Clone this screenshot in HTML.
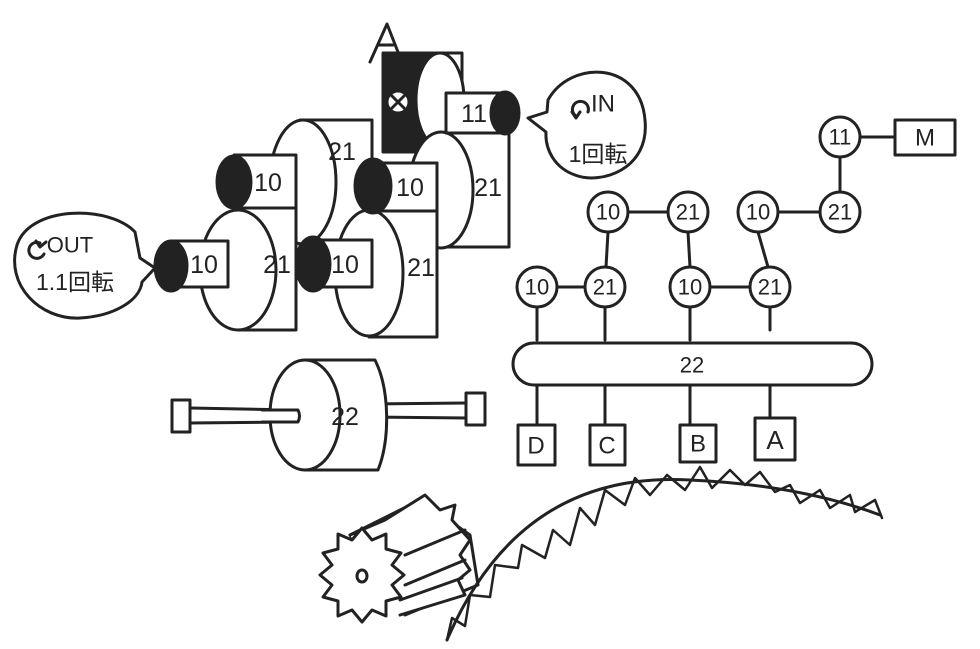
<!DOCTYPE html>
<html><head><meta charset="utf-8"><style>
html,body{margin:0;padding:0;background:#fff}
svg{display:block}
text{font-family:"Liberation Sans","Noto Sans CJK JP",sans-serif;fill:#222}
</style></head><body>
<svg width="980" height="649" viewBox="0 0 980 649" xmlns="http://www.w3.org/2000/svg">
<g stroke="#222" stroke-width="3" fill="#fff" stroke-linejoin="round" stroke-linecap="round">
<rect x="383" y="53" width="62" height="99" fill="#222"/>
<rect x="440" y="53" width="22" height="85"/>
<ellipse cx="440" cy="100" rx="24" ry="47"/>
<circle cx="398" cy="102" r="11" fill="#fff"/>
<path d="M391 95 L405 109 M405 95 L391 109"/>
<rect x="441" y="133" width="68" height="114"/>
<ellipse cx="441" cy="190" rx="32" ry="58"/>
<rect x="446" y="93" width="60" height="40"/>
<ellipse cx="505" cy="113" rx="14" ry="21" fill="#222"/>
<rect x="300" y="120" width="72" height="140"/>
<ellipse cx="303" cy="182" rx="33" ry="62"/>
<rect x="369" y="163" width="68" height="174"/>
<ellipse cx="369" cy="273" rx="34" ry="63"/>
<rect x="373" y="163" width="64" height="48"/>
<ellipse cx="373" cy="186" rx="18" ry="27" fill="#222"/>
<rect x="234" y="155" width="62" height="53"/>
<ellipse cx="234" cy="182" rx="17" ry="26" fill="#222"/>
<rect x="238" y="208" width="58" height="122"/>
<ellipse cx="238" cy="270" rx="38" ry="60"/>
<rect x="313" y="240" width="59" height="47"/>
<ellipse cx="313" cy="264" rx="17" ry="27" fill="#222"/>
<rect x="171" y="241" width="57" height="46"/>
<ellipse cx="171" cy="266" rx="16" ry="25" fill="#222"/>
<path d="M370 62 L387 24 L398 52 M378 45 L393 45" fill="none"/>
<path d="M548 100 C570 60 640 60 645 120 C650 170 600 185 575 175 C555 168 545 150 546 132 L528 118 L547 112 Z"/>
<path d="M576 116 A8 8 0 1 1 588 112" fill="none"/>
<path d="M572 112 L576 118 L580 112" fill="none"/>
<path d="M135 232 C110 205 30 205 17 245 C5 285 40 320 80 318 C115 316 140 300 142 282 L155 268 L140 258 Z"/>
<path d="M44 254 A8 8 0 1 1 40 243" fill="none"/>
<path d="M36 241 L40 247 L46 242" fill="none"/>
<rect x="172" y="400" width="18" height="32"/>
<rect x="466" y="393" width="19" height="32"/>
<path d="M190 408 L295 410 M190 423 L295 422 M365 404 L466 403 M365 417 L466 418" fill="none"/>
<path d="M305 360 L375 360 C390 390 390 440 378 470 L305 470 Z"/>
<ellipse cx="305" cy="415" rx="35" ry="55"/>
<path d="M262 410 L298 410 C300 414 300 418 298 422 L262 422" fill="#fff"/>
<path d="M860 137 L895 137 M840 157 L840 192 M778 212 L820 212 M628 212 L668 212 M608 232 L606 267 M688 232 L690 267 M758 232 L768 267 M557 287 L585 287 M710 287 L750 287 M537 307 L537 340 M605 307 L605 340 M690 307 L690 340 M770 307 L770 330 M537 385 L537 425 M605 385 L605 425 M690 385 L690 425 M770 385 L770 418" fill="none"/>
<rect x="895" y="120" width="60" height="35"/>
<circle cx="840" cy="137" r="20"/>
<circle cx="840" cy="212" r="20"/>
<circle cx="758" cy="212" r="20"/>
<circle cx="608" cy="212" r="20"/>
<circle cx="688" cy="212" r="20"/>
<circle cx="537" cy="287" r="20"/>
<circle cx="605" cy="287" r="20"/>
<circle cx="690" cy="287" r="20"/>
<circle cx="770" cy="287" r="20"/>
<rect x="513" y="343" width="359" height="42" rx="21"/>
<rect x="518" y="425" width="37" height="40"/>
<rect x="590" y="425" width="35" height="40"/>
<rect x="680" y="425" width="36" height="37"/>
<rect x="755" y="418" width="40" height="42"/>
<path d="M350 535 L420 500 L470 535 L478 585 L405 615 Z"/>
<path d="M350 535 L385 520 L425 495 L440 510 L455 505 L452 520 L470 540 L460 555 L470 570 L458 580 L465 595 L400 615" fill="#fff"/>
<path d="M405 555 L465 530 M405 585 L465 560 M400 600 L462 578" fill="none"/>
<polygon points="362,528 372,540 386,534 386,549 401,553 392,565 404,575 392,585 401,597 386,601 386,616 372,610 362,622 352,610 338,616 338,601 323,597 332,585 320,575 332,565 323,553 338,549 338,534 352,540"/>
<ellipse cx="362" cy="576" rx="5" ry="6"/>
<path d="M447 640 Q520 470 690 480 Q800 485 880 515" fill="none"/>
<path d="M447 640 L452 618 L465 626 L470 595 L490 597 L495 565 L518 568 L522 545 L545 558 L553 530 L570 545 L580 508 L595 525 L605 490 L625 505 L635 478 L650 495 L667 475 L685 490 L700 467 L712 488 L730 470 L745 485 L760 472 L775 492 L790 485 L800 503 L820 490 L830 508 L850 495 L855 512 L875 500 L882 518" fill="none" stroke-width="2.5"/>
</g>
<g font-size="25" text-anchor="middle" dominant-baseline="central">
<text x="474" y="114">11</text>
<text x="488" y="188">21</text>
<text x="342" y="152">21</text>
<text x="268" y="183">10</text>
<text x="410" y="188">10</text>
<text x="277" y="265">21</text>
<text x="204" y="265">10</text>
<text x="345" y="265">10</text>
<text x="421" y="268">21</text>
<text x="345" y="417">22</text>
<text x="603" y="104" font-size="24">IN</text>
<text x="598" y="154" font-size="23">1回転</text>
<text x="70" y="245" font-size="22">OUT</text>
<text x="75" y="282" font-size="23">1.1回転</text>
<text x="840" y="137" font-size="22">11</text>
<text x="925" y="138" font-size="24">M</text>
<text x="840" y="212" font-size="22">21</text>
<text x="758" y="212" font-size="22">10</text>
<text x="608" y="212" font-size="22">10</text>
<text x="688" y="212" font-size="22">21</text>
<text x="537" y="287" font-size="22">10</text>
<text x="605" y="287" font-size="22">21</text>
<text x="690" y="287" font-size="22">10</text>
<text x="770" y="287" font-size="22">21</text>
<text x="692" y="365" font-size="22">22</text>
<text x="536" y="446" font-size="24">D</text>
<text x="607" y="446" font-size="24">C</text>
<text x="698" y="444" font-size="24">B</text>
<text x="775" y="440" font-size="26">A</text>
</g>
</svg>
</body></html>
